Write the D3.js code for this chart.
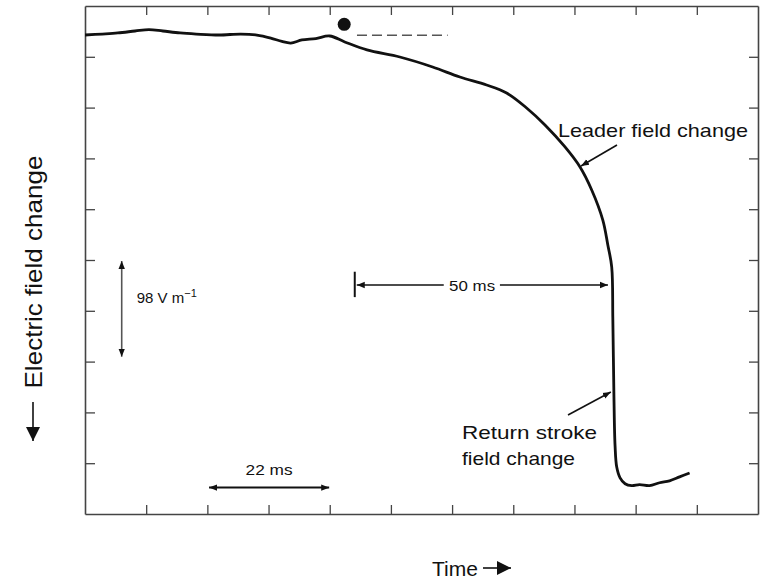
<!DOCTYPE html>
<html>
<head>
<meta charset="utf-8">
<script src="https://cdn.jsdelivr.net/npm/d3@7"></script>
<style>
  body { margin: 0; background: #fff; }
  svg { display: block; font-family: "Liberation Sans", Arial, sans-serif; }
</style>
</head>
<body>
<div id="chart"></div>
<script>
// field record (time in ms, field change in V/m)
const timeMs = [0, 3.1, 5.9, 9.0, 11.5, 14.0, 17.1, 20.0, 24.1, 28.0, 30.9, 33.4, 35.4, 37.0, 39.0, 41.5, 44.0,
    46.7, 50.7, 56.6, 62.5, 67.4, 72.2, 75.8, 79.4, 82.7, 86.3, 89.0, 91.1, 93.1, 94.0, 94.7,
    94.9, 95.1, 95.3, 95.6, 96.2, 97.1, 98.3, 99.7, 101.5, 103.3, 105.1, 106.9, 108.7];
const fieldVm = [-29.7, -28.7, -27.6, -25.6, -24.1, -25.6, -27.6, -28.7, -29.7, -28.7, -29.7, -32.8, -36.3, -37.9, -34.8, -33.3, -30.7,
    -36.8, -45.0, -52.2, -62.4, -72.7, -80.9, -89.1, -104.4, -121.8, -144.3, -164.8, -188.3, -219.1, -244.6, -267.2,
    -320, -400, -450, -472, -483, -489, -491, -490, -491, -488, -486, -482, -478];

// axis divisions
const xTicks = d3.range(0, 122, 11);      // 11 ms per division
const yTicks = d3.range(0, -521, -52);    // 52 V/m per division

// annotation values
const stepStart = 44.0;                   // leader onset (dot)
const leaderSpan = [48.5, 94.2];          // "50 ms"
const timeBar = [22.3, 43.9];             // "22 ms"
const fieldBar = [-261, -359];            // "98 V m-1"

const width = 761, height = 582;
const mLeft = 85, mRight = 758, mTop = 6, mBottom = 514;

const svg = d3.select("#chart").append("svg")
    .attr("width", width)
    .attr("height", height);

const x = d3.scaleLinear().domain([0, 121]).range([mLeft, mRight]);
const y = d3.scaleLinear().domain([0, -520]).range([mTop, mBottom]);

const defs = svg.append("defs");
defs.append("marker")
    .attr("id", "head")
    .attr("viewBox", "0 0 10 10")
    .attr("refX", 10).attr("refY", 5)
    .attr("markerWidth", 8).attr("markerHeight", 8)
    .attr("markerUnits", "userSpaceOnUse")
    .attr("orient", "auto-start-reverse")
    .append("path")
    .attr("d", "M0,1 L10,5 L0,9 Z")
    .attr("fill", "#111");
defs.append("marker")
    .attr("id", "bighead")
    .attr("viewBox", "0 0 10 10")
    .attr("refX", 10).attr("refY", 5)
    .attr("markerWidth", 14).attr("markerHeight", 14)
    .attr("markerUnits", "userSpaceOnUse")
    .attr("orient", "auto")
    .append("path")
    .attr("d", "M0,0 L10,5 L0,10 Z")
    .attr("fill", "#111");

// frame, ticks pointing inward
const axisColor = "#444";
const axes = [
    d3.axisBottom(x).tickValues(xTicks.slice(1, -1)).tickSizeInner(-9).tickSizeOuter(0).tickFormat(""),
    d3.axisTop(x).tickValues(xTicks.slice(1, -1)).tickSizeInner(-9).tickSizeOuter(0).tickFormat(""),
    d3.axisLeft(y).tickValues(yTicks.slice(1, -1)).tickSizeInner(-10).tickSizeOuter(0).tickFormat(""),
    d3.axisRight(y).tickValues(yTicks.slice(1, -1)).tickSizeInner(-9).tickSizeOuter(0).tickFormat("")
];
const pos = [`translate(0,${mBottom})`, `translate(0,${mTop})`, `translate(${mLeft},0)`, `translate(${mRight},0)`];
axes.forEach((a, i) => {
    const g = svg.append("g").attr("transform", pos[i]).call(a);
    g.select(".domain").attr("stroke", axisColor).attr("stroke-width", 1.6);
    g.selectAll(".tick line").attr("stroke", axisColor).attr("stroke-width", 1.3);
});

// the record
const line = d3.line()
    .x((d, i) => x(timeMs[i]))
    .y(d => y(d))
    .curve(d3.curveCatmullRom.alpha(0.5));

svg.append("path")
    .datum(fieldVm)
    .attr("d", line)
    .attr("fill", "none")
    .attr("stroke", "#111")
    .attr("stroke-width", 2.8)
    .attr("stroke-linejoin", "round");

// leader onset marker and baseline extension
svg.append("circle")
    .attr("cx", x(stepStart + 2.6))
    .attr("cy", y(-18.8))
    .attr("r", 6.5)
    .attr("fill", "#111");
svg.append("line")
    .attr("x1", x(48.9)).attr("x2", x(65.2))
    .attr("y1", y(-30)).attr("y2", y(-30))
    .attr("stroke", "#555")
    .attr("stroke-width", 1.5)
    .attr("stroke-dasharray", "10,5");

const ink = "#111";

// 50 ms span
svg.append("line")
    .attr("x1", x(leaderSpan[0])).attr("x2", x(leaderSpan[0]))
    .attr("y1", y(-272)).attr("y2", y(-298))
    .attr("stroke", ink).attr("stroke-width", 2);
svg.append("line")
    .attr("x1", x(leaderSpan[0]) + 2).attr("x2", x(64.5))
    .attr("y1", y(-285.6)).attr("y2", y(-285.6))
    .attr("stroke", ink).attr("stroke-width", 1.3)
    .attr("marker-start", "url(#head)");
svg.append("line")
    .attr("x1", x(74.6)).attr("x2", x(leaderSpan[1]) - 1)
    .attr("y1", y(-285.6)).attr("y2", y(-285.6))
    .attr("stroke", ink).attr("stroke-width", 1.3)
    .attr("marker-end", "url(#head)");
svg.append("text")
    .attr("x", x(69.6)).attr("y", y(-285.6) + 5.5)
    .attr("text-anchor", "middle")
    .attr("font-size", 15)
    .attr("fill", ink)
    .attr("textLength", 46)
    .attr("lengthAdjust", "spacingAndGlyphs")
    .text("50 ms");

// 22 ms scale bar
svg.append("line")
    .attr("x1", x(timeBar[0])).attr("x2", x(timeBar[1]))
    .attr("y1", y(-493)).attr("y2", y(-493))
    .attr("stroke", ink).attr("stroke-width", 2)
    .attr("marker-start", "url(#head)")
    .attr("marker-end", "url(#head)");
svg.append("text")
    .attr("x", x((timeBar[0] + timeBar[1]) / 2)).attr("y", y(-480))
    .attr("text-anchor", "middle")
    .attr("font-size", 15)
    .attr("fill", ink)
    .attr("textLength", 47)
    .attr("lengthAdjust", "spacingAndGlyphs")
    .text("22 ms");

// 98 V/m scale bar
svg.append("line")
    .attr("x1", x(6.6)).attr("x2", x(6.6))
    .attr("y1", y(fieldBar[0])).attr("y2", y(fieldBar[1]))
    .attr("stroke", "#555").attr("stroke-width", 1.6)
    .attr("marker-start", "url(#head)")
    .attr("marker-end", "url(#head)");
const vm = svg.append("text")
    .attr("x", x(9.3)).attr("y", y(-304))
    .attr("font-size", 15)
    .attr("fill", ink)
    .text("98 V m");
vm.append("tspan").attr("dy", -6).attr("font-size", 11).text("\u22121");

// callouts
svg.append("text")
    .attr("x", 558).attr("y", 137)
    .attr("font-size", 19)
    .attr("fill", ink)
    .attr("textLength", 190)
    .attr("lengthAdjust", "spacingAndGlyphs")
    .text("Leader field change");
svg.append("line")
    .attr("x1", 617).attr("y1", 145)
    .attr("x2", x(89.0) + 1).attr("y2", y(-164.8) - 1)
    .attr("stroke", ink).attr("stroke-width", 1.6)
    .attr("marker-end", "url(#head)");

const rs = svg.append("text")
    .attr("font-size", 19)
    .attr("fill", ink);
rs.append("tspan").attr("x", 462).attr("y", 439)
    .attr("textLength", 135).attr("lengthAdjust", "spacingAndGlyphs")
    .text("Return stroke");
rs.append("tspan").attr("x", 462).attr("y", 465)
    .attr("textLength", 113).attr("lengthAdjust", "spacingAndGlyphs")
    .text("field change");
svg.append("line")
    .attr("x1", 568).attr("y1", 415)
    .attr("x2", x(94.9) - 2).attr("y2", 392)
    .attr("stroke", ink).attr("stroke-width", 1.6)
    .attr("marker-end", "url(#head)");

// axis titles
svg.append("text")
    .attr("transform", "translate(42,272) rotate(-90)")
    .attr("text-anchor", "middle")
    .attr("font-size", 24)
    .attr("fill", ink)
    .attr("textLength", 233)
    .attr("lengthAdjust", "spacingAndGlyphs")
    .text("Electric field change");
svg.append("line")
    .attr("x1", 33).attr("x2", 33)
    .attr("y1", 402).attr("y2", 441)
    .attr("stroke", ink).attr("stroke-width", 1.6)
    .attr("marker-end", "url(#bighead)");

svg.append("text")
    .attr("x", 432).attr("y", 576)
    .attr("font-size", 21)
    .attr("fill", ink)
    .text("Time");
svg.append("line")
    .attr("x1", 483).attr("x2", 511)
    .attr("y1", 568).attr("y2", 568)
    .attr("stroke", ink).attr("stroke-width", 1.6)
    .attr("marker-end", "url(#bighead)");
</script>
</body>
</html>
